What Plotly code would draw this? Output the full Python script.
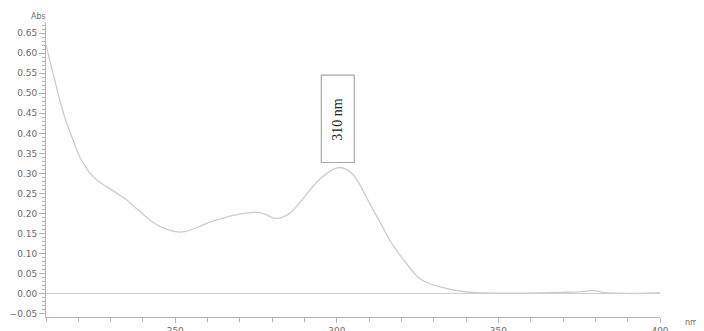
import plotly.graph_objects as go

# Wavelength (nm) and absorbance
wavelength = [210, 212, 214.2, 216, 218.3, 220.5, 223.4, 226, 228.6, 231.5, 234.8, 238, 242,
              246, 250, 253, 257.5, 261, 264.7, 267.5, 269.8, 272.5, 274.9, 276.5, 278,
              279.5, 281.2, 283, 285.3, 288, 290.5, 292.5, 294.6, 297, 299, 300.8, 302.8,
              304.9, 307, 309, 311, 313.2, 316.3, 318.8, 321.4, 323.5, 325.5, 328.5,
              331.7, 335.9, 339, 343.1, 350, 358, 365, 370, 375, 378.1, 380, 382.8,
              387, 392, 396, 400]
absorbance = [0.620, 0.555, 0.485, 0.435, 0.385, 0.340, 0.303, 0.282, 0.268, 0.253, 0.235,
              0.213, 0.185, 0.165, 0.155, 0.155, 0.168, 0.180, 0.189, 0.195, 0.199, 0.202,
              0.204, 0.202, 0.198, 0.192, 0.188, 0.191, 0.200, 0.222, 0.247, 0.267, 0.285,
              0.301, 0.311, 0.315, 0.311, 0.298, 0.274, 0.243, 0.213, 0.181, 0.135, 0.105,
              0.077, 0.056, 0.039, 0.026, 0.018, 0.010, 0.006, 0.003, 0.002, 0.002, 0.003,
              0.004, 0.005, 0.008, 0.008, 0.003, 0.002, 0.001, 0.002, 0.003]

x_major = [250, 300, 350, 400]
x_major_labels = ["250", "300", "350", "400"]
peak_label = "310 nm"

axis_col = "#b4b4b4"
text_col = "#6a6a6a"
tick_font = dict(family="DejaVu Sans", size=9, color=text_col)

fig = go.Figure()
fig.add_trace(go.Scatter(x=wavelength, y=absorbance, mode="lines",
                         line=dict(color="#cdcdcd", width=1.3, shape="spline", smoothing=0.4),
                         hoverinfo="skip", showlegend=False))

# page has an 8px body margin; plot area in page pixels: x 46..660, y 22..317
fig.update_layout(
    width=704, height=331,
    margin=dict(l=38, r=52, t=14, b=22, autoexpand=False),
    paper_bgcolor="white", plot_bgcolor="white",
    xaxis=dict(range=[210, 400], showgrid=False, zeroline=False, automargin=False,
               showline=True, linecolor=axis_col, linewidth=1,
               tickmode="array", tickvals=x_major, ticktext=x_major_labels,
               ticks="outside", ticklen=5, tickcolor=axis_col, tickfont=tick_font,
               minor=dict(dtick=10, tick0=210, ticks="outside", ticklen=4, tickcolor=axis_col)),
    yaxis=dict(range=[-0.0575, 0.6775], showgrid=False, automargin=False,
               zeroline=True, zerolinecolor="#cfcfcf", zerolinewidth=1.2,
               showline=True, linecolor=axis_col, linewidth=1,
               tick0=0, dtick=0.05, tickformat=".2f",
               ticks="outside", ticklen=6, tickcolor=axis_col, tickfont=tick_font,
               minor=dict(dtick=0.01, ticks="outside", ticklen=3, tickcolor=axis_col)),
)

# Peak label box
fig.add_shape(type="rect", xref="x", yref="y", x0=295.2, x1=305.4, y0=0.3275, y1=0.545,
              line=dict(color="#a8a8a8", width=1.2), fillcolor="white")
fig.add_annotation(x=300.3, y=0.436, xref="x", yref="y", text=peak_label, textangle=-90,
                   showarrow=False, font=dict(family="Liberation Serif", size=14, color="#222"))

# Axis unit labels (paper coords relative to plot area)
fig.add_annotation(x=(38 - 46) / 614, y=(317 - 16) / 295, xref="paper", yref="paper", text="Abs",
                   showarrow=False, xanchor="center", yanchor="middle",
                   font=dict(family="DejaVu Sans", size=8, color=text_col))
fig.add_annotation(x=(691 - 46) / 614, y=(317 - 322) / 295, xref="paper", yref="paper", text="nm",
                   showarrow=False, xanchor="center", yanchor="middle",
                   font=dict(family="DejaVu Sans", size=8, color=text_col))

fig.write_html("out.html")
